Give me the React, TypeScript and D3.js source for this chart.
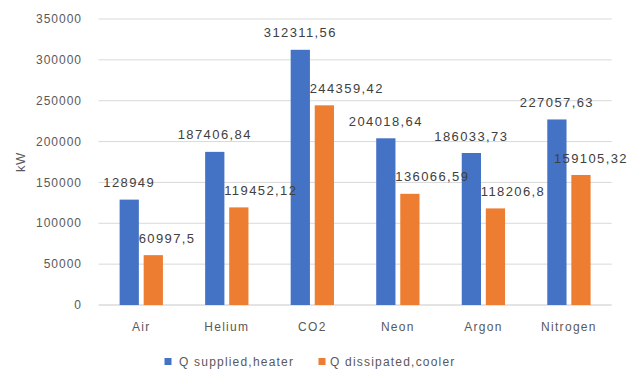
import React, { useEffect, useRef } from "react";
import * as d3 from "d3";

// Heat flows per working fluid (kW)
const gases = ["Air", "Helium", "CO2", "Neon", "Argon", "Nitrogen"];
const seriesNames = ["Q supplied,heater", "Q dissipated,cooler"];
const heaterSupplied = [128949, 187406.84, 312311.56, 204018.64, 186033.73, 227057.63];
const coolerDissipated = [60997.5, 119452.12, 244359.42, 136066.59, 118206.8, 159105.32];
const yTicks = [0, 50000, 100000, 150000, 200000, 250000, 300000, 350000];
const seriesColors = ["#4472C4", "#ED7D31"];

const W = 630;
const H = 369;
const FONT = "'Liberation Sans', Arial, sans-serif";

export default function App() {
  const ref = useRef<SVGSVGElement>(null);

  useEffect(() => {
    const svg = d3.select(ref.current);
    svg.selectAll("*").remove();

    const plot = { left: 98.5, right: 611.7, top: 19, bottom: 305 };

    const x0 = d3.scaleBand<string>().domain(gases).range([plot.left, plot.right]).padding(0);
    const groupW = 43.3;
    const x1 = d3.scaleBand<number>().domain([0, 1]).range([0, groupW]).paddingInner(0.2).paddingOuter(0);
    const y = d3.scaleLinear().domain([0, 350000]).range([plot.bottom, plot.top]);

    const fmt = (v: number) => String(v).replace(".", ",");

    // gridlines
    svg.append("g")
      .selectAll("line")
      .data(yTicks)
      .join("line")
      .attr("x1", plot.left)
      .attr("x2", plot.right)
      .attr("y1", (d) => y(d))
      .attr("y2", (d) => y(d))
      .attr("stroke", (d) => (d === 0 ? "#c8c8c8" : "#d9d9d9"))
      .attr("stroke-width", 1);

    // y tick labels
    svg.append("g")
      .selectAll("text")
      .data(yTicks)
      .join("text")
      .attr("x", 82)
      .attr("y", (d) => y(d))
      .attr("dy", "0.35em")
      .attr("text-anchor", "end")
      .attr("font-family", FONT)
      .attr("font-size", 12)
      .attr("letter-spacing", 1)
      .attr("fill", "#595959")
      .text((d) => String(d));

    // y axis title
    svg.append("text")
      .attr("transform", `translate(20,162) rotate(-90)`)
      .attr("text-anchor", "middle")
      .attr("dy", "0.35em")
      .attr("font-family", FONT)
      .attr("font-size", 13)
      .attr("letter-spacing", 0.5)
      .attr("fill", "#595959")
      .text("kW");

    // category labels
    svg.append("g")
      .selectAll("text")
      .data(gases)
      .join("text")
      .attr("x", (d) => (x0(d) as number) + x0.bandwidth() / 2)
      .attr("y", 327)
      .attr("dy", "0.35em")
      .attr("text-anchor", "middle")
      .attr("font-family", FONT)
      .attr("font-size", 12)
      .attr("letter-spacing", 1.3)
      .attr("fill", "#595959")
      .text((d) => d);

    const seriesValues = [heaterSupplied, coolerDissipated];
    const barX = (gi: number, si: number) =>
      (x0(gases[gi]) as number) + x0.bandwidth() / 2 - groupW / 2 + (x1(si) as number);

    seriesValues.forEach((vals, si) => {
      svg.append("g")
        .selectAll("rect")
        .data(vals)
        .join("rect")
        .attr("x", (_, gi) => barX(gi, si))
        .attr("y", (d) => y(d))
        .attr("width", x1.bandwidth())
        .attr("height", (d) => plot.bottom - y(d))
        .attr("fill", seriesColors[si]);
    });

    // value labels
    seriesValues.forEach((vals, si) => {
      const g = svg.append("g");
      vals.forEach((v, gi) => {
        const t = g.append("text")
          .attr("y", y(v) - 17)
          .attr("dy", "0.35em")
          .attr("font-family", FONT)
          .attr("font-size", 13)
          .attr("letter-spacing", 1.4)
          .attr("fill", "#404040")
          .text(fmt(v));
        if (si === 0) {
          t.attr("x", barX(gi, si) + x1.bandwidth() / 2).attr("text-anchor", "middle");
        } else {
          const len = (t.node() as SVGTextElement).getComputedTextLength();
          let left = barX(gi, si) - 5;
          if (left + len > W - 2) left = W - 2 - len;
          t.attr("x", left).attr("text-anchor", "start");
        }
      });
    });

    // legend
    const legend = svg.append("g");
    const legendItems = [
      { x: 164.5, tx: 179 },
      { x: 318.5, tx: 330 },
    ];
    seriesNames.forEach((name, i) => {
      legend.append("rect")
        .attr("x", legendItems[i].x)
        .attr("y", 358)
        .attr("width", 7)
        .attr("height", 7)
        .attr("fill", seriesColors[i]);
      legend.append("text")
        .attr("x", legendItems[i].tx)
        .attr("y", 361.5)
        .attr("dy", "0.35em")
        .attr("font-family", FONT)
        .attr("font-size", 12)
        .attr("letter-spacing", 1.2)
        .attr("fill", "#595959")
        .text(name);
    });
  }, []);

  return (
    <svg
      ref={ref}
      width={W}
      height={H}
      style={{ position: "absolute", left: 0, top: 0, background: "#fff" }}
    />
  );
}
